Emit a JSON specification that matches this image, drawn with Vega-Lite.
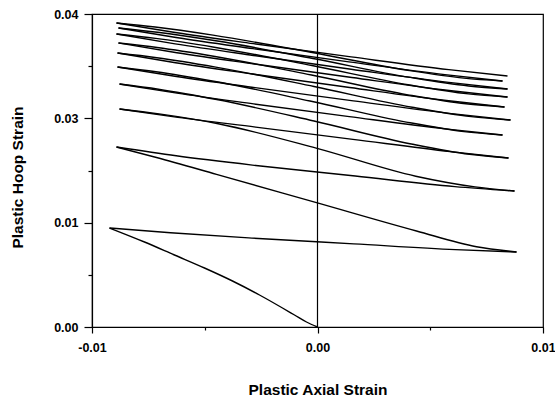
{
  "$schema": "https://vega.github.io/schema/vega-lite/v6.json",
  "width": 451,
  "height": 313,
  "autosize": {"type": "none"},
  "padding": {"left": 92, "top": 14, "right": 12, "bottom": 75},
  "background": "white",
  "config": {"view": {"stroke": "black", "strokeWidth": 1.2}, "font": "Liberation Sans"},
  "layer": [
    {
      "data": {"values": [
        {"b":0,"x":0,"y":0},{"b":0,"x":-0.000488,"y":0.000639},{"b":0,"x":-0.00102,"y":0.001534},{"b":0,"x":-0.001552,"y":0.002428},{"b":0,"x":-0.002572,"y":0.00409},{"b":0,"x":-0.00377,"y":0.005879},{"b":0,"x":-0.005011,"y":0.00754},{"b":0,"x":-0.006342,"y":0.009202},{"b":0,"x":-0.007672,"y":0.010863},{"b":0,"x":-0.009224,"y":0.012652},
        {"b":1,"x":-0.009224,"y":0.012652},{"b":1,"x":-0.006517,"y":0.012039},{"b":1,"x":-0.002907,"y":0.011364},{"b":1,"x":0.001605,"y":0.010628},{"b":1,"x":0.006118,"y":0.009892},{"b":1,"x":0.008825,"y":0.009585},
        {"b":2,"x":0.008825,"y":0.009585},{"b":2,"x":0.007051,"y":0.010256},{"b":2,"x":0.00439,"y":0.012269},{"b":2,"x":-0.000045,"y":0.015891},{"b":2,"x":-0.004479,"y":0.019514},{"b":2,"x":-0.00714,"y":0.021661},{"b":2,"x":-0.008914,"y":0.023003},
        {"b":3,"x":-0.008914,"y":0.023003},{"b":3,"x":-0.006266,"y":0.021878},{"b":3,"x":-0.002736,"y":0.020641},{"b":3,"x":0.001676,"y":0.019292},{"b":3,"x":0.006089,"y":0.017942},{"b":3,"x":0.008736,"y":0.01738},
        {"b":4,"x":0.008736,"y":0.01738},{"b":4,"x":0.006984,"y":0.017904},{"b":4,"x":0.004357,"y":0.019266},{"b":4,"x":-0.000022,"y":0.022829},{"b":4,"x":-0.004401,"y":0.025973},{"b":4,"x":-0.007028,"y":0.02723},{"b":4,"x":-0.00878,"y":0.027859},
        {"b":5,"x":-0.00878,"y":0.027859},{"b":5,"x":-0.006192,"y":0.026794},{"b":5,"x":-0.002742,"y":0.025542},{"b":5,"x":0.00157,"y":0.023977},{"b":5,"x":0.005883,"y":0.022411},{"b":5,"x":0.00847,"y":0.021597},
        {"b":6,"x":0.00847,"y":0.021597},{"b":6,"x":0.006745,"y":0.02207},{"b":6,"x":0.004157,"y":0.023394},{"b":6,"x":-0.000155,"y":0.026326},{"b":6,"x":-0.004468,"y":0.029068},{"b":6,"x":-0.007055,"y":0.030392},{"b":6,"x":-0.00878,"y":0.031054},
        {"b":7,"x":-0.00878,"y":0.031054},{"b":7,"x":-0.006232,"y":0.029881},{"b":7,"x":-0.002836,"y":0.028512},{"b":7,"x":0.00141,"y":0.026883},{"b":7,"x":0.005656,"y":0.025319},{"b":7,"x":0.008204,"y":0.024537},
        {"b":8,"x":0.008204,"y":0.024537},{"b":8,"x":0.006497,"y":0.024972},{"b":8,"x":0.003936,"y":0.026188},{"b":8,"x":-0.000333,"y":0.028882},{"b":8,"x":-0.004601,"y":0.031402},{"b":8,"x":-0.007162,"y":0.032619},{"b":8,"x":-0.008869,"y":0.033227},
        {"b":9,"x":-0.008869,"y":0.033227},{"b":9,"x":-0.006255,"y":0.032008},{"b":9,"x":-0.002769,"y":0.030586},{"b":9,"x":0.001588,"y":0.028892},{"b":9,"x":0.005945,"y":0.027267},{"b":9,"x":0.008559,"y":0.026454},
        {"b":10,"x":0.008559,"y":0.026454},{"b":10,"x":0.006816,"y":0.026882},{"b":10,"x":0.004202,"y":0.028081},{"b":10,"x":-0.000155,"y":0.030735},{"b":10,"x":-0.004512,"y":0.033218},{"b":10,"x":-0.007126,"y":0.034417},{"b":10,"x":-0.008869,"y":0.035016},
        {"b":11,"x":-0.008869,"y":0.035016},{"b":11,"x":-0.006295,"y":0.033774},{"b":11,"x":-0.002862,"y":0.032325},{"b":11,"x":0.001428,"y":0.030599},{"b":11,"x":0.005719,"y":0.028943},{"b":11,"x":0.008293,"y":0.028115},
        {"b":12,"x":0.008293,"y":0.028115},{"b":12,"x":0.006581,"y":0.028524},{"b":12,"x":0.004013,"y":0.029669},{"b":12,"x":-0.000266,"y":0.032205},{"b":12,"x":-0.004546,"y":0.034576},{"b":12,"x":-0.007113,"y":0.035721},{"b":12,"x":-0.008825,"y":0.036294},
        {"b":13,"x":-0.008825,"y":0.036294},{"b":13,"x":-0.006237,"y":0.035052},{"b":13,"x":-0.002787,"y":0.033603},{"b":13,"x":0.001526,"y":0.031877},{"b":13,"x":0.005838,"y":0.030221},{"b":13,"x":0.008426,"y":0.029393},
        {"b":14,"x":0.008426,"y":0.029393},{"b":14,"x":0.006692,"y":0.029796},{"b":14,"x":0.004091,"y":0.030923},{"b":14,"x":-0.000244,"y":0.033418},{"b":14,"x":-0.004579,"y":0.035753},{"b":14,"x":-0.00718,"y":0.03688},{"b":14,"x":-0.008914,"y":0.037443},
        {"b":15,"x":-0.008914,"y":0.037443},{"b":15,"x":-0.006313,"y":0.036178},{"b":15,"x":-0.002845,"y":0.034702},{"b":15,"x":0.00149,"y":0.032945},{"b":15,"x":0.005825,"y":0.031258},{"b":15,"x":0.008426,"y":0.030415},
        {"b":16,"x":0.008426,"y":0.030415},{"b":16,"x":0.006701,"y":0.030805},{"b":16,"x":0.004113,"y":0.031896},{"b":16,"x":-0.0002,"y":0.034313},{"b":16,"x":-0.004512,"y":0.036574},{"b":16,"x":-0.0071,"y":0.037665},{"b":16,"x":-0.008825,"y":0.038211},
        {"b":17,"x":-0.008825,"y":0.038211},{"b":17,"x":-0.006271,"y":0.036992},{"b":17,"x":-0.002865,"y":0.03557},{"b":17,"x":0.001392,"y":0.033876},{"b":17,"x":0.00565,"y":0.032251},{"b":17,"x":0.008204,"y":0.031438},
        {"b":18,"x":0.008204,"y":0.031438},{"b":18,"x":0.006492,"y":0.031809},{"b":18,"x":0.003924,"y":0.032846},{"b":18,"x":-0.000355,"y":0.035144},{"b":18,"x":-0.004635,"y":0.037293},{"b":18,"x":-0.007202,"y":0.038331},{"b":18,"x":-0.008914,"y":0.03885},
        {"b":19,"x":-0.008914,"y":0.03885},{"b":19,"x":-0.006313,"y":0.037631},{"b":19,"x":-0.002845,"y":0.036208},{"b":19,"x":0.00149,"y":0.034515},{"b":19,"x":0.005825,"y":0.032889},{"b":19,"x":0.008426,"y":0.032076}
      ]},
      "mark": {"type": "line", "color": "black", "strokeWidth": 1.4, "interpolate": "monotone"},
      "encoding": {
        "x": {
          "field": "x", "type": "quantitative",
          "scale": {"domain": [-0.01, 0.01], "nice": false, "zero": false},
          "axis": {
            "title": "Plastic Axial Strain",
            "values": [-0.01, -0.005, 0, 0.005, 0.01],
            "labelExpr": "abs(datum.value*100-round(datum.value*100))<0.01 ? replace(format(datum.value,'.2f'),'\u2212','-') : ''",
            "grid": false,
            "domainColor": "black", "domainWidth": 1.2,
            "tickColor": "black", "tickWidth": 1.2,
            "tickSize": {"condition": {"test": "abs(datum.value*100-round(datum.value*100))<0.01", "value": 6}, "value": 3},
            "labelPadding": 8,
            "labelFont": "Liberation Sans", "labelFontWeight": "bold", "labelFontSize": 12.5, "labelColor": "black",
            "labelFlush": false, "labelOverlap": false,
            "titleFont": "Liberation Sans", "titleFontWeight": "bold", "titleFontSize": 15.5, "titleColor": "black",
            "titleX": 225.5, "titleY": 67, "titleBaseline": "alphabetic", "titleAnchor": null
          }
        },
        "y": {
          "field": "y", "type": "quantitative",
          "scale": {"domain": [0, 0.04], "nice": false, "zero": false},
          "axis": {
            "title": "Plastic Hoop Strain",
            "values": [0, 0.0066667, 0.0133333, 0.02, 0.0266667, 0.0333333, 0.04],
            "labelExpr": "abs(datum.value*75-round(datum.value*75))<0.01 ? format(datum.value,'.2f') : ''",
            "grid": false,
            "domainColor": "black", "domainWidth": 1.2,
            "tickColor": "black", "tickWidth": 1.2,
            "tickSize": {"condition": {"test": "abs(datum.value*75-round(datum.value*75))<0.01", "value": 8}, "value": 4},
            "labelPadding": 6,
            "labelFont": "Liberation Sans", "labelFontWeight": "bold", "labelFontSize": 12.5, "labelColor": "black",
            "labelFlush": false, "labelOverlap": false,
            "titleFont": "Liberation Sans", "titleFontWeight": "bold", "titleFontSize": 15.5, "titleColor": "black",
            "titleAngle": 270, "titleX": -67, "titleY": 163, "titleBaseline": "bottom", "titleAlign": "center", "titleAnchor": null
          }
        },
        "detail": {"field": "b", "type": "nominal"}
      }
    },
    {
      "data": {"values": [{"v": 0}]},
      "mark": {"type": "rule", "color": "black", "strokeWidth": 1.2},
      "encoding": {"x": {"field": "v", "type": "quantitative"}}
    }
  ]
}
